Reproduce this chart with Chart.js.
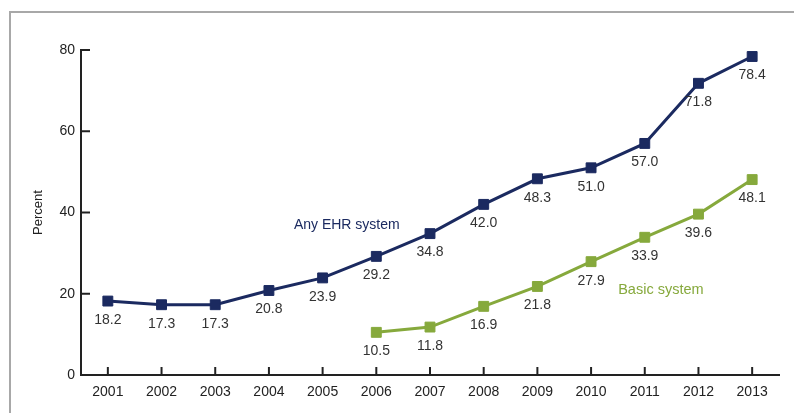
<!DOCTYPE html>
<html>
<head>
<meta charset="utf-8">
<script src="https://cdn.jsdelivr.net/npm/chart.js@4.4.1/dist/chart.umd.min.js"></script>
<style>
  html, body { margin: 0; padding: 0; background: #fff; overflow: hidden; }
  #wrap { position: relative; width: 794px; height: 413px; overflow: hidden; }
  #frame { position: absolute; left: 9px; top: 11px; width: 820px; height: 440px;
           border: 2px solid #a8a8a8; box-sizing: border-box; }
  canvas { position: absolute; left: 0; top: 0; }
</style>
</head>
<body>
<div id="wrap">
  <div id="frame"></div>
  <canvas id="ehrChart" width="794" height="413"></canvas>
</div>
<script>
const years = ['2001', '2002', '2003', '2004', '2005', '2006', '2007',
  '2008', '2009', '2010', '2011', '2012', '2013'];
const anyEhr = [18.2, 17.3, 17.3, 20.8, 23.9, 29.2, 34.8, 42.0, 48.3, 51.0, 57.0, 71.8, 78.4];
const basicSystem = [null, null, null, null, null, 10.5, 11.8, 16.9, 21.8, 27.9, 33.9, 39.6, 48.1];
const yTicks = [0, 20, 40, 60, 80];

const navy = '#1b2a60';
const green = '#86a93c';
const font = 'Liberation Sans, Arial, sans-serif';

// ticks pointing into the plot, data labels under the points, series names
const extras = {
  id: 'extras',
  afterDatasetsDraw(chart) {
    const ctx = chart.ctx;
    const x = chart.scales.x, y = chart.scales.y;
    ctx.save();
    ctx.strokeStyle = '#222';
    ctx.lineWidth = 2;
    years.forEach(function (yr, i) {
      const px = x.getPixelForValue(i);
      ctx.beginPath();
      ctx.moveTo(px, y.bottom);
      ctx.lineTo(px, y.bottom - 8);
      ctx.stroke();
    });
    yTicks.forEach(function (v) {
      const py = y.getPixelForValue(v);
      ctx.beginPath();
      ctx.moveTo(x.left, py);
      ctx.lineTo(x.left + 9, py);
      ctx.stroke();
    });

    ctx.font = '14px ' + font;
    ctx.fillStyle = '#333';
    ctx.textAlign = 'center';
    ctx.textBaseline = 'middle';
    chart.data.datasets.forEach(function (ds, di) {
      chart.getDatasetMeta(di).data.forEach(function (pt, i) {
        const v = ds.data[i];
        if (v === null) return;
        ctx.fillText(v.toFixed(1), pt.x, pt.y + 19);
      });
    });

    ctx.fillStyle = navy;
    ctx.fillText('Any EHR system', x.getPixelForValue(4.45), y.getPixelForValue(36.9));
    ctx.fillStyle = green;
    ctx.font = '14.5px ' + font;
    ctx.fillText('Basic system', x.getPixelForValue(10.3), y.getPixelForValue(20.9));
    ctx.restore();
  }
};

new Chart(document.getElementById('ehrChart'), {
  type: 'line',
  data: {
    labels: years,
    datasets: [{
      label: 'Any EHR system',
      data: anyEhr,
      borderColor: navy,
      backgroundColor: navy,
      borderWidth: 3,
      pointStyle: 'rect',
      pointRadius: 7,
      pointBorderWidth: 1,
      tension: 0
    }, {
      label: 'Basic system',
      data: basicSystem,
      borderColor: green,
      backgroundColor: green,
      borderWidth: 3,
      pointStyle: 'rect',
      pointRadius: 7,
      pointBorderWidth: 1,
      tension: 0
    }]
  },
  options: {
    responsive: false,
    animation: false,
    layout: { padding: { left: 0, top: 50, right: 15, bottom: 0 } },
    plugins: {
      legend: { display: false },
      tooltip: { enabled: false }
    },
    scales: {
      x: {
        offset: true,
        grid: { display: false, drawTicks: false },
        border: { display: true, color: '#222', width: 2 },
        ticks: { color: '#222', padding: 9, font: { family: font, size: 14 } },
        afterFit: function (s) { s.height = 38; }
      },
      y: {
        min: 0,
        max: 80,
        grid: { display: false, drawTicks: false },
        border: { display: true, color: '#222', width: 2 },
        ticks: { stepSize: 20, color: '#222', padding: 6, font: { family: font, size: 14 } },
        title: { display: true, text: 'Percent', color: '#222', padding: { top: 31, bottom: 0 },
                 font: { family: font, size: 13 } },
        afterFit: function (s) { s.width = 81; }
      }
    }
  },
  plugins: [extras]
});
</script>
</body>
</html>
